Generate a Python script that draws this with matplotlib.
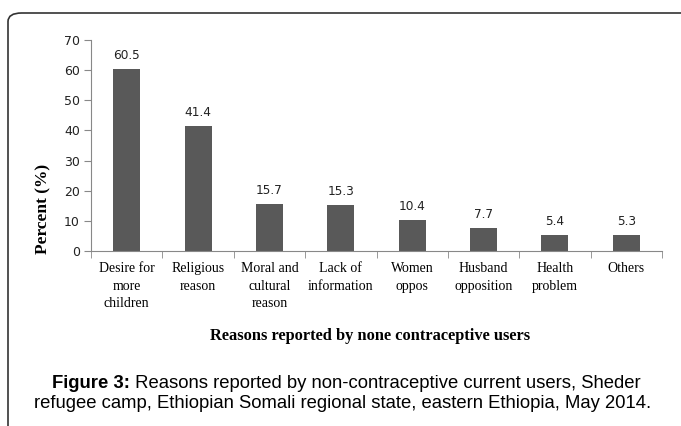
import matplotlib.pyplot as plt
from matplotlib.patches import FancyBboxPatch

reasons = ["Desire for\nmore\nchildren", "Religious\nreason", "Moral and\ncultural\nreason",
           "Lack of\ninformation", "Women\noppos", "Husband\nopposition", "Health\nproblem", "Others"]
percent = [60.5, 41.4, 15.7, 15.3, 10.4, 7.7, 5.4, 5.3]
yticks = [0, 10, 20, 30, 40, 50, 60, 70]

W, H = 681, 426
fig = plt.figure(figsize=(W / 100, H / 100), dpi=100)

# rounded frame running off the right and bottom edges
frame = FancyBboxPatch((8 / W, -0.1), 1.2, 0.1 + (H - 13) / H,
                       boxstyle="round,pad=0,rounding_size=0.02",
                       transform=fig.transFigure, fill=False,
                       edgecolor="#333333", linewidth=1.2)
fig.patches.append(frame)

ax = fig.add_axes([91 / W, 1 - 251 / H, (662 - 91) / W, (251 - 40) / H])
x = list(range(len(reasons)))
bars = ax.bar(x, percent, width=0.38, color="#595959")

ax.set_xlim(-0.5, len(reasons) - 0.5)
ax.set_ylim(0, 70)
ax.set_yticks(yticks)
ax.set_yticklabels([str(t) for t in yticks], fontsize=9, family="DejaVu Sans", color="#222222")
ax.tick_params(axis="y", length=5, color="#888888", pad=3)

ax.set_xticks(x)
ax.set_xticklabels(reasons, family="Liberation Serif", fontsize=10, linespacing=1.45)
ax.tick_params(axis="x", length=0, pad=8)
ax.set_xticks([i - 0.5 for i in range(len(reasons) + 1)], minor=True)
ax.tick_params(axis="x", which="minor", length=5, color="#888888")

for s in ["top", "right"]:
    ax.spines[s].set_visible(False)
ax.spines["left"].set_color("#888888")
ax.spines["bottom"].set_color("#888888")

for b, v in zip(bars, percent):
    ax.annotate(f"{v}", (b.get_x() + b.get_width() / 2, v), xytext=(0, 5),
                textcoords="offset points", ha="center", va="bottom",
                fontsize=8.7, family="DejaVu Sans", color="#222222")

fig.text(43 / W, 1 - 209 / H, "Percent (%)", rotation=90, ha="center", va="center",
         family="Liberation Serif", fontweight="bold", fontsize=12.5)
fig.text(370 / W, 1 - 336 / H, "Reasons reported by none contraceptive users",
         ha="center", va="center", family="Liberation Serif", fontweight="bold", fontsize=11.8)

# caption with bold lead-in
cap_bold = "Figure 3:"
cap_rest = " Reasons reported by non-contraceptive current users, Sheder"
cap_line2 = "refugee camp, Ethiopian Somali regional state, eastern Ethiopia, May 2014."
fs = 13.3
t1 = fig.text(0, 1 - 384 / H, cap_bold, family="Liberation Sans", fontweight="bold",
              fontsize=fs, va="center")
t2 = fig.text(0, 1 - 384 / H, cap_rest, family="Liberation Sans", fontsize=fs, va="center")
fig.canvas.draw()
r = fig.canvas.get_renderer()
w1 = t1.get_window_extent(r).width
w2 = t2.get_window_extent(r).width
start = 346 - (w1 + w2) / 2
t1.set_x(start / W)
t2.set_x((start + w1) / W)
fig.text(343 / W, 1 - 403 / H, cap_line2, family="Liberation Sans",
         fontsize=fs, ha="center", va="center")

fig.savefig("out.png", dpi=100)
